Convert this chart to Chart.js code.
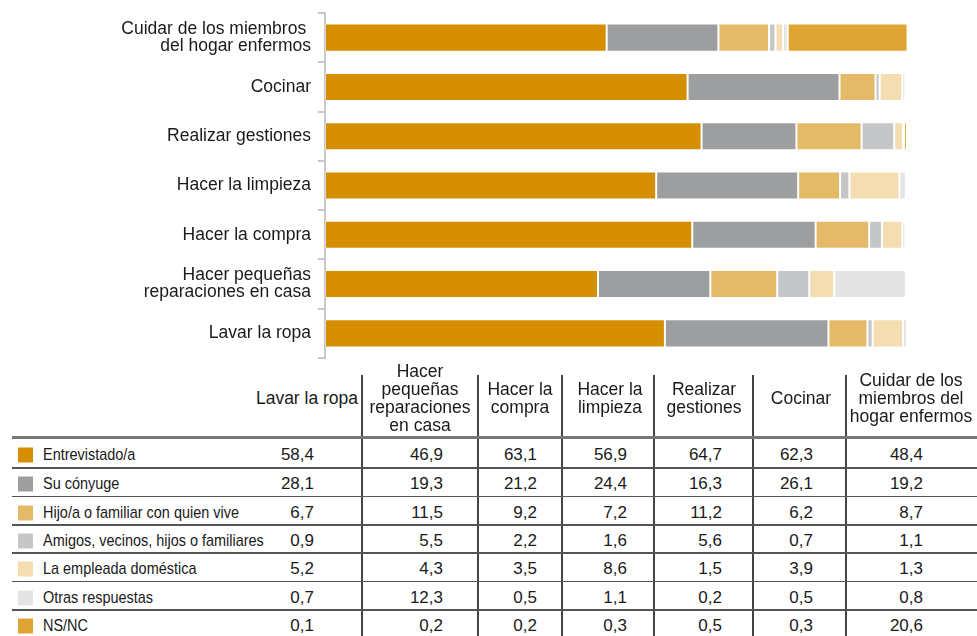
<!DOCTYPE html>
<html lang="es">
<head>
<meta charset="UTF-8">
<title>Quién realiza las tareas del hogar</title>
<script src="https://cdn.jsdelivr.net/npm/chart.js@4/dist/chart.umd.min.js"></script>
<style>
  body { margin: 0; background: #fff; font-family: 'Liberation Sans', Arial, sans-serif; color: #1a1a1a; }
  #wrap { position: relative; width: 977px; height: 636px; overflow: hidden; }
  #chartBox { position: absolute; left: 0; top: 0; width: 977px; height: 365px; }
  #tabla div { position: absolute; white-space: nowrap; }
  .hd { font-size: 17.5px; line-height: 18px; text-align: center; transform: translate(-50%, -50%); }
  .val { font-size: 17px; line-height: 20px; text-align: right; transform: translate(-100%, -50%); }
  /* rótulos de fila en letra estrecha */
  .lbl { font-size: 17px; line-height: 20px; transform-origin: 0 50%; transform: translateY(-50%) scaleX(0.85); }
  .sw { width: 15px; height: 15px; transform: translateY(-50%); }
  .hline { left: 12px; width: 965px; height: 1.5px; background: #555; }
  .vline { width: 1.5px; background: #444; }
</style>
</head>
<body>
<div id="wrap">
  <div id="chartBox"><canvas id="tareasChart"></canvas></div>
  <div id="tabla"></div>
</div>
<script>
// tareas, en el orden de las columnas de la tabla
const tareas = ['Lavar la ropa', 'Hacer pequeñas reparaciones en casa', 'Hacer la compra',
  'Hacer la limpieza', 'Realizar gestiones', 'Cocinar', 'Cuidar de los miembros del hogar enfermos'];

// rótulos del eje (mismo orden que tareas)
const etiquetasEje = [['Lavar la ropa'], ['Hacer pequeñas', 'reparaciones en casa'], ['Hacer la compra'],
  ['Hacer la limpieza'], ['Realizar gestiones'], ['Cocinar'], ['Cuidar de los miembros ', 'del hogar enfermos']];

// cabeceras de la tabla
const cabeceras = [['Lavar la ropa'], ['Hacer', 'pequeñas', 'reparaciones', 'en casa'], ['Hacer la', 'compra'],
  ['Hacer la', 'limpieza'], ['Realizar', 'gestiones'], ['Cocinar'], ['Cuidar de los', 'miembros del', 'hogar enfermos']];

const quienes = ['Entrevistado/a', 'Su cónyuge', 'Hijo/a o familiar con quien vive',
  'Amigos, vecinos, hijos o familiares', 'La empleada doméstica', 'Otras respuestas', 'NS/NC'];
const colores = ['#D48E00', '#9D9E9F', '#E4BA69', '#C5C6C7', '#F3DDB1', '#E3E4E3', '#DEA535'];

// porcentajes por tarea
const entrevistado = [58.4, 46.9, 63.1, 56.9, 64.7, 62.3, 48.4];
const conyuge      = [28.1, 19.3, 21.2, 24.4, 16.3, 26.1, 19.2];
const hijo         = [6.7, 11.5, 9.2, 7.2, 11.2, 6.2, 8.7];
const amigos       = [0.9, 5.5, 2.2, 1.6, 5.6, 0.7, 1.1];
const empleada     = [5.2, 4.3, 3.5, 8.6, 1.5, 3.9, 1.3];
const otras        = [0.7, 12.3, 0.5, 1.1, 0.2, 0.5, 0.8];
const nsnc         = [0.1, 0.2, 0.2, 0.3, 0.5, 0.3, 20.6];

const series = [entrevistado, conyuge, hijo, amigos, empleada, otras, nsnc];

// el gráfico va de arriba abajo al revés que la tabla
const rev = a => a.slice().reverse();

new Chart(document.getElementById('tareasChart'), {
  type: 'bar',
  data: {
    labels: rev(etiquetasEje),
    datasets: series.map((s, i) => ({
      label: quienes[i],
      data: rev(s),
      backgroundColor: colores[i],
      borderColor: 'rgba(255,255,255,0.35)',
      borderWidth: 1,
      borderSkipped: false,
      barPercentage: 0.57,
      categoryPercentage: 1
    }))
  },
  options: {
    indexAxis: 'y',
    responsive: true,
    maintainAspectRatio: false,
    animation: false,
    layout: { padding: { top: 13, bottom: 7, right: 70, left: 0 } },
    scales: {
      x: { stacked: true, min: 0, max: 100, display: false },
      y: {
        stacked: true,
        afterFit: s => { s.width = 325; s.paddingTop = 0; s.paddingBottom = 0; },
        border: { display: true, color: '#C8C8C8', width: 2 },
        grid: { drawOnChartArea: false, color: '#C8C8C8', lineWidth: 2, tickLength: 7, offset: true },
        ticks: {
          color: '#1a1a1a',
          padding: 7,
          font: { family: "'Liberation Sans', Arial, sans-serif", size: 17.5, lineHeight: 0.97 }
        }
      }
    },
    plugins: { legend: { display: false }, tooltip: { enabled: false } }
  }
});

// tabla de datos
const tabla = document.getElementById('tabla');
const add = (cls, css, html) => {
  const d = document.createElement('div');
  d.className = cls;
  Object.assign(d.style, css);
  if (html !== undefined) d.innerHTML = html;
  tabla.appendChild(d);
};

const lineasV = [362, 478, 562, 654, 753, 846];
const centrosCab = [307, 420, 520, 610, 704, 801, 911];
const bordeValor = [314, 443, 537, 627, 722, 813, 923];
const filaAlto = 28.4;
const filaY = i => i === 0 ? [437, 468] : [468 + (i - 1) * filaAlto, 468 + i * filaAlto];

cabeceras.forEach((c, j) => add('hd', { left: centrosCab[j] + 'px', top: '398px' }, c.join('<br>')));

lineasV.forEach(x => add('vline', { left: (x - 0.75) + 'px', top: '375px', height: '261px' }));
add('hline', { top: '436px', height: '2.5px', background: '#777' });

quienes.forEach((q, i) => {
  const [y0, y1] = filaY(i);
  const yc = (y0 + y1) / 2 + 2;
  if (i > 0) add('hline', { top: (y0 - 0.75) + 'px' });
  add('sw', { left: '18px', top: yc + 'px', background: colores[i] });
  add('lbl', { left: '43px', top: yc + 'px' }, q);
  series[i].forEach((v, j) => add('val', { left: bordeValor[j] + 'px', top: yc + 'px' }, v.toFixed(1).replace('.', ',')));
});
</script>
</body>
</html>
